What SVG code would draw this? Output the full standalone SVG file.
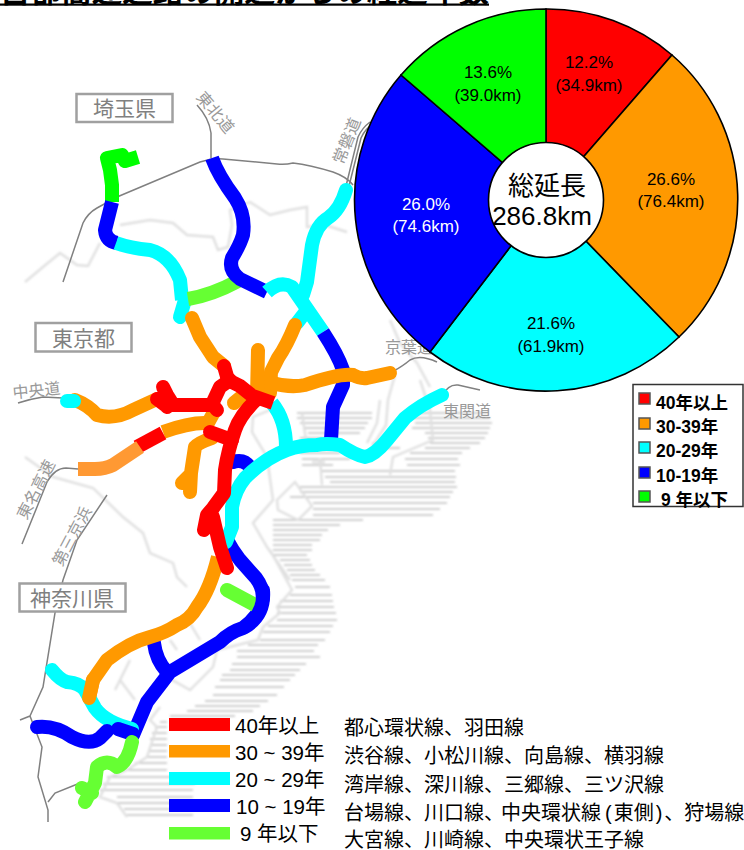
<svg xmlns="http://www.w3.org/2000/svg" width="744" height="850" viewBox="0 0 744 850">
<style>
text{font-family:"Liberation Sans","Noto Sans CJK JP",sans-serif}
.r{fill:none;stroke-width:14;stroke-linecap:round;stroke-linejoin:round}
.b{stroke-linecap:butt}
.red{stroke:#f00}.org{stroke:#f90}.org2{stroke:#f93}.cya{stroke:#0ff}.blu{stroke:#00f}.grn{stroke:#6f3}.grn2{stroke:#0f0}
.road{fill:none;stroke:#808080;stroke-width:1.5}
.pref{fill:#fff;stroke:#a0a0a0;stroke-width:2.5}
.preft{font-size:21px;fill:#808080;text-anchor:middle}
.rl{font-size:16px;fill:#999;text-anchor:middle}
.hatch{fill:none;stroke:#cfcfcf;stroke-width:1.8}
.land{fill:none;stroke:#e0e0e0;stroke-width:2.4}
.sl{stroke:#000;stroke-width:1.6}
.pt{font-size:17px;text-anchor:middle}
.sw{stroke:#555;stroke-width:1.5}
.lg{font-size:17.500px;font-weight:bold}
.ms{stroke:none}
.mt{font-size:20px}
.lt{font-size:20.500px}
</style>
<defs><filter id="soft" x="-5%" y="-5%" width="110%" height="110%"><feGaussianBlur stdDeviation="0.8"/></filter></defs>

<g id="title">
<text x="0" y="2" font-size="30.5" font-weight="bold" textLength="489">首都高速道路の開通からの経過年数</text>
<rect x="0" y="3.5" width="489" height="2.2" fill="#000"/>
</g>

<g id="map-background" filter="url(#soft)">
<path class="hatch" d="M297 413H372M415 413H488M297 418H372M412 418H490M300 423H368M415 423H492M303 428H365M412 428H490M308 433H360M425 433H488M300 438H330M428 438H485M372 443H385M430 443H480M372 448H400M425 448H470M300 453H340M410 453H462M302 459H350M405 459H458M302 465H333M407 465H460M320 471H455M325 477H456M330 482H455M300 487H457M300 492H453M290 497H450M313 503H447M313 509H440M313 515H433M273 520H363M273 525H340M273 530H328M273 535H322M273 540H320M273 545H312M273 550H312M273 555H307M280 560H310M284 565H312M287 570H315M290 575H320M292 580H325M295 587H330M290 595H332M280 601H333M278 607H334M277 613H336M277 620H337M268 626H333M263 632H330M260 640H325M248 645H318M237 651H314M237 657H320M232 664H306M230 670H300M222 675H295M220 680H290M215 687H284M213 695H277M205 701H268M195 706H260M187 711H253M170 716H235M160 722H167M155 727H167M152 733H167M150 739H167M150 745H167M148 751H167M146 757H167M135 763H167M120 770H167M107 777H197M103 784H195M100 790H193M117 797H193M117 803H193M124 809H193M127 815H193"/>
<path class="land" d="M25 282L43 267L60 253L77 265L88 266L100 243M120 225L150 220L173 223L187 235L213 237L218 250L228 247L232 225L230 210L250 202L270 215L290 210L307 207L307 227L325 225L347 232M390 320L400 343L417 363L430 387M380 400L377 423L367 443M395 375L388 400L386 425L372 447M420 380L430 410L433 440L393 457L390 475M25 457L53 477L93 488L123 517L143 533L150 553L173 563L177 577L187 587M270 410L253 417L252 432L267 457L273 500L253 523L267 547L290 580M302 413L306 440M320 458L322 485M312 462H325M277 500L295 482L312 506L298 520L278 510ZM270 550L292 590L277 607L280 613L263 627L258 640L217 650L213 667L190 690L167 677M160 707L150 720L157 727L147 757L127 770L110 777L100 797L117 803L127 817M177 650L170 640M185 615L200 640M120 680L135 700M115 690L130 660"/>
</g>

<g id="roads">
<path class="road" d="M63 282L83 223Q88 213 97 208L117 197L200 162Q212 158 223 159L277 164Q285 165 293 163Q310 165 333 172Q347 177 353 185"/>
<path class="road" d="M197 105Q209 118 211 133L211 158"/>
<path class="road" d="M346 186L358 137Q362 128 370 122M349 186L361 138Q365 129 373 124"/>
<path class="road" d="M392 372Q403 366 410 360Q420 354 437 362"/>
<path class="road" d="M443 395Q448 384 458 385L480 390"/>
<path class="road" d="M18 403Q30 399 43 397L63 398"/>
<path class="road" d="M22 544L37 507L47 482Q55 468 66 468L78 469"/>
<path class="road" d="M107 495L77 540L63 580L55 613L43 687L30 716L42 747L38 777L48 810L48 822M20 720L30 716M48 802L55 793L80 783"/>
</g>

<g id="prefecture-labels">
<g id="saitama"><rect class="pref" x="76.500" y="94" width="96" height="28"/><text class="preft" x="124.500" y="116">埼玉県</text></g>
<g id="tokyo"><rect class="pref" x="35.500" y="323" width="96" height="28.500"/><text class="preft" x="83.500" y="346">東京都</text></g>
<g id="kanagawa"><rect class="pref" x="19.500" y="583.500" width="106" height="28"/><text class="preft" x="72" y="606">神奈川県</text></g>
</g>

<g id="road-labels">
<text class="rl" transform="translate(211 116) rotate(50)">東北道</text>
<text class="rl" transform="translate(352 143) rotate(-68)">常磐道</text>
<text class="rl" x="409" y="353">京葉道</text>
<text class="rl" x="467" y="417">東関道</text>
<text class="rl" transform="translate(37 396) rotate(-6)">中央道</text>
<text class="rl" transform="translate(41 492) rotate(-63)">東名高速</text>
<text class="rl" transform="translate(77 539) rotate(-62)">第三京浜</text>
</g>

<g id="connectors">
<path class="r grn2 b" d="M138 157L125 161L122 155L107 158L110 170L112 185L112 202"/>
<path class="r blu b" d="M112 202L105 230Q106 241 117 243"/>
<path class="r cya b" d="M116 243Q130 248 150 250Q170 255 180 280L182 300"/>
<path class="r cya" d="M185 300L180 317"/>
<path class="r grn b" d="M188 299Q212 295 238 281"/>
<path class="r blu b" d="M212 158Q218 175 235 198Q246 215 243 235Q240 245 232 258Q228 270 240 279L267 292"/>
<path class="r cya" d="M346 190Q340 210 328 218Q316 225 312 245L307 282L303 295"/>
<path class="r cya b" d="M267 292Q280 280 292 287L323 332"/>
<path class="r cya" d="M297 323L307 310"/>
<path class="r blu b" d="M323 332Q338 355 343 370L343 385L333 407L331 440"/>
<path class="r org" d="M295 325Q287 345 278 358L271 372L270 393"/>
<path class="r org" d="M258 350L257 396"/>
<path class="r org" d="M272 383Q290 388 305 385Q340 373 353 375Q360 379 367 378L390 373"/>
<path class="r org" d="M192 318L200 337L213 357L224 366"/>
<path class="r org" d="M234 403L245 394"/>
<path class="r org" d="M75 400Q88 405 97 415Q115 420 133 410L157 399"/>
<path class="r cya" d="M67 401H74"/>
<path class="r org" d="M214 412L208 423"/>
<path class="r org b" d="M208 423Q190 422 163 432"/>
<path class="r org" d="M212 438Q198 443 195 447L191 473L190 492M182 483L191 474"/>
<path class="r red b" d="M163 433L137 447"/>
<path class="r org2 b" d="M140 447L113 465Q105 469 95 469H78"/>
<path class="r cya b" d="M272 403Q286 420 286 447"/>
<path class="r blu" d="M233 462Q245 458 252 470"/>
<path class="r blu" d="M227 540Q232 550 240 560L256 578Q265 590 262 602Q260 615 243 628Q230 632 220 642L170 672L147 702L133 735"/>
<path class="r blu" d="M154 643Q156 660 167 672"/>
<path class="r cya" d="M442 395Q420 405 405 418L387 440Q375 455 365 457Q355 455 340 445Q325 443 317 445Q300 445 287 450Q265 458 245 478Q235 490 232 507L232 527L226 542"/>
<path class="r org b" d="M218 557Q210 590 197 607Q190 620 177 625Q165 633 150 637Q130 642 107 660L93 680L89 698"/>
<path class="r red" d="M224 366L228 380L240 386L250 394"/>
<path class="r red b" d="M273 403L253 396"/>
<path class="r red" d="M257 399Q240 415 235 430Q228 450 225 470L224 493L213 508L207 515L204 530M213 517L220 547L227 568"/>
<path class="r red" d="M157 399L165 405H213L217 410M213 402L220 387L230 380M163 387L167 395L172 403M167 407L172 403"/>
<path class="r red" d="M210 432L232 440"/>
<path class="r grn" d="M227 590L255 605"/>
<path class="r blu" d="M263 590Q265 615 245 627"/>
<path class="r cya" d="M52 670Q60 680 67 682Q80 683 85 690L95 708Q105 722 132 729"/>
<path class="r org" d="M93 680L89 698"/>
<path class="r blu" d="M37 727Q55 725 72 737Q90 746 100 738L107 731"/>
<path class="r blu" d="M118 729L133 734"/>
<path class="r grn" d="M132 742Q128 762 117 767Q107 758 97 767L95 783L85 802M82 788L92 793"/>
</g>

<g id="pie">
<path class="sl" fill="#f00" d="M546 200V9A191 191 0 0 1 672 55Z"/>
<path class="sl" fill="#f90" d="M546 200L672 55A191 191 0 0 1 679 337Z"/>
<path class="sl" fill="#0ff" d="M546 200L679 337A191 191 0 0 1 430 352Z"/>
<path class="sl" fill="#00f" d="M546 200L430 352A191 191 0 0 1 401 75Z"/>
<path class="sl" fill="#0f0" d="M546 200L401 75A191 191 0 0 1 546 9Z"/>
<circle class="sl" cx="546" cy="200" r="57.500" fill="#fff"/>
<text class="pt" x="589" y="68">12.2%</text><text class="pt" x="589" y="91">(34.9km)</text>
<text class="pt" x="488" y="78">13.6%</text><text class="pt" x="488" y="101">(39.0km)</text>
<text class="pt" x="671" y="185">26.6%</text><text class="pt" x="671" y="207">(76.4km)</text>
<text class="pt" x="426" y="210" fill="#fff">26.0%</text><text class="pt" x="426" y="232" fill="#fff">(74.6km)</text>
<text class="pt" x="551" y="329">21.6%</text><text class="pt" x="551" y="352">(61.9km)</text>
<text x="547" y="195" font-size="26" text-anchor="middle">総延長</text>
<text x="542" y="225" font-size="26" text-anchor="middle">286.8km</text>
</g>

<g id="pie-legend">
<rect x="633" y="384.500" width="110" height="122" fill="#fff" stroke="#333" stroke-width="1.500"/>
<rect class="sw" x="639" y="393" width="11" height="11" fill="#f00"/><text class="lg" x="656" y="409">40年以上</text>
<rect class="sw" x="639" y="418" width="11" height="11" fill="#f90"/><text class="lg" x="656" y="433">30-39年</text>
<rect class="sw" x="639" y="442" width="11" height="11" fill="#0ff"/><text class="lg" x="656" y="457">20-29年</text>
<rect class="sw" x="639" y="467" width="11" height="11" fill="#00f"/><text class="lg" x="656" y="482">10-19年</text>
<rect class="sw" x="639" y="491" width="11" height="11" fill="#0f0"/><text class="lg" x="661" y="506">9 年以下</text>
</g>

<g id="map-legend">
<rect class="ms" x="169" y="718" width="61" height="13" fill="#f00"/><text class="lt" x="235" y="733">40年以上</text>
<rect class="ms" x="169" y="745" width="61" height="12.500" fill="#f90"/><text class="lt" x="235" y="760">30 ~ 39年</text>
<rect class="ms" x="169" y="772" width="61" height="13" fill="#0ff"/><text class="lt" x="235" y="787">20 ~ 29年</text>
<rect class="ms" x="169" y="799" width="61" height="13" fill="#00f"/><text class="lt" x="236" y="814">10 ~ 19年</text>
<rect class="ms" x="169" y="827" width="61" height="12.500" fill="#6f3"/><text class="lt" x="240" y="841">9 年以下</text>
<text class="mt" x="344" y="735">都心環状線、羽田線</text>
<text class="mt" x="344" y="763">渋谷線、小松川線、向島線、横羽線</text>
<text class="mt" x="344" y="792">湾岸線、深川線、三郷線、三ツ沢線</text>
<text class="mt" x="344" y="820">台場線、川口線、<tspan dx="-3">中央環状線</tspan><tspan dx="4">(</tspan><tspan dx="2">東側</tspan><tspan dx="2">)</tspan><tspan dx="2">、狩場線</tspan></text>
<text class="mt" x="344" y="847">大宮線、川崎線、中央環状王子線</text>
</g>
</svg>
